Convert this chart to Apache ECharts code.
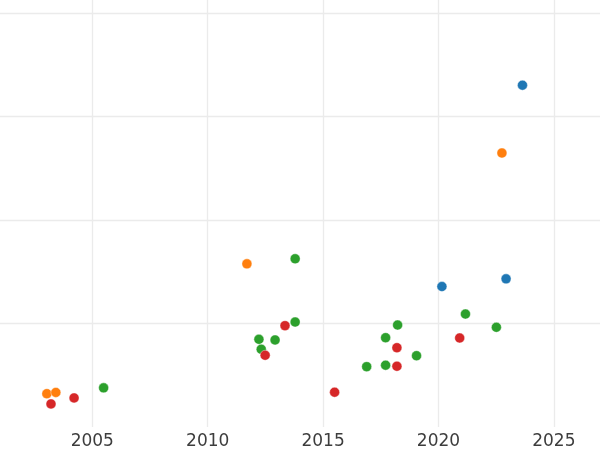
<!DOCTYPE html>
<html>
<head>
<meta charset="utf-8">
<script src="https://cdn.jsdelivr.net/npm/echarts@6/dist/echarts.min.js"></script>
<style>html,body{margin:0;padding:0;background:#fff}#c{width:600px;height:450px}</style>
</head>
<body>
<div id="c"></div>
<script>
// Data: [year, value]
var blueX = [2023.64, 2020.15, 2022.93];
var blueY = [3.302, 1.357, 1.431];
var orangeX = [2022.75, 2011.70, 2003.03, 2003.42];
var orangeY = [2.647, 1.576, 0.322, 0.334];
var greenX = [2013.79, 2013.79, 2012.22, 2012.92, 2012.32, 2005.49, 2021.17, 2022.51, 2018.23, 2017.71, 2019.05, 2016.89, 2017.71];
var greenY = [1.625, 1.014, 0.847, 0.841, 0.751, 0.378, 1.091, 0.963, 0.985, 0.863, 0.689, 0.583, 0.597];
var redX = [2013.35, 2012.49, 2003.21, 2004.21, 2020.92, 2018.20, 2018.20, 2015.50];
var redY = [0.979, 0.693, 0.223, 0.281, 0.860, 0.766, 0.587, 0.336];

var xMin = 2001, xMax = 2027;
var yMin = 0, yMax = 4.125, yStep = 1;

function pairs(xs, ys) { return xs.map(function (x, i) { return [x, ys[i]]; }); }

var colors = ['#1f77b4', '#ff7f0e', '#2ca02c', '#d62728'];
var groups = [pairs(blueX, blueY), pairs(orangeX, orangeY), pairs(greenX, greenY), pairs(redX, redY)];

var chart = echarts.init(document.getElementById('c'), null, {renderer: 'canvas'});
chart.setOption({
  animation: false,
  backgroundColor: '#ffffff',
  grid: {left: 0, right: 0, top: 0, bottom: 23, containLabel: false},
  xAxis: {
    type: 'value', min: xMin, max: xMax,
    axisLine: {show: false}, axisTick: {show: false},
    axisLabel: {show: true, showMinLabel: false, showMaxLabel: false, color: '#3d3d3d',
      fontFamily: 'DejaVu Sans', fontSize: 17, margin: 6,
      formatter: function (v) { return String(Math.round(v)); }},
    splitLine: {show: true, showMinLine: false, showMaxLine: false, lineStyle: {color: '#ebebeb', width: 1.3}}
  },
  yAxis: {
    type: 'value', min: yMin, max: yMax, interval: yStep,
    axisLine: {show: false}, axisTick: {show: false}, axisLabel: {show: false},
    splitLine: {show: true, showMinLine: false, showMaxLine: false, lineStyle: {color: '#ebebeb', width: 1.3}}
  },
  series: groups.map(function (d, i) {
    return {
      type: 'scatter', data: d, symbolSize: 10,
      itemStyle: {color: colors[i], opacity: 1, borderColor: '#ffffff', borderWidth: 0.4}
    };
  })
});
</script>
</body>
</html>
